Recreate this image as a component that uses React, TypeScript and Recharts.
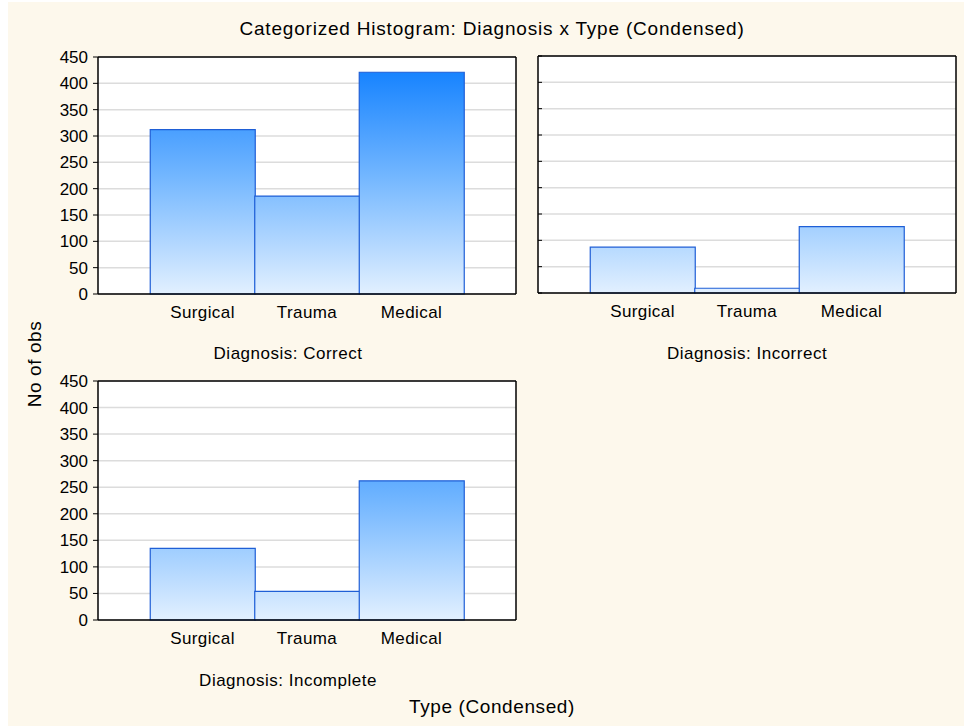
import { BarChart, Bar, XAxis, YAxis, CartesianGrid } from "recharts";

// Categorized histogram: counts per case type, one panel per diagnosis outcome.
const categories = ["Surgical", "Trauma", "Medical"];
const correctCounts = [312, 186, 421];
const incorrectCounts = [87, 9, 126];
const incompleteCounts = [135, 54, 262];
const yTicks = [0, 50, 100, 150, 200, 250, 300, 350, 400, 450];

const FONT = '"Liberation Sans", Arial, sans-serif';
const BG = "#fdf8ec";

// chart margins around the plot box
const ML = 18;
const YW = 40;
const MT = 12;
const XH = 34;
const MB = 8;
const MR = 6;

interface PanelProps {
  id: string;
  counts: number[];
  px: number;
  py: number;
  pw: number;
  ph: number;
  showY: boolean;
}

function Panel({ id, counts, px, py, pw, ph, showY }: PanelProps) {
  const data = categories.map((type, i) => ({ type, count: counts[i] }));
  const pad = pw / 8;
  const width = pw + ML + YW + MR;
  const height = ph + MT + XH + MB;
  // a mirrored y axis takes no room, so push the plot over by hand
  const left = showY ? ML : ML + YW;
  const axisLine = { stroke: "#000", strokeWidth: 1.5 };
  return (
    <div style={{ position: "absolute", left: px - ML - YW, top: py - MT }}>
      <BarChart
        width={width}
        height={height}
        data={data}
        margin={{ top: MT, right: MR, left, bottom: MB }}
        barCategoryGap={0}
        style={{ fontFamily: FONT }}
      >
        <defs>
          <linearGradient
            id={`grad-${id}`}
            gradientUnits="userSpaceOnUse"
            x1={0}
            y1={MT}
            x2={0}
            y2={MT + ph}
          >
            <stop offset="0%" stopColor="#0a7cff" />
            <stop offset="50%" stopColor="#72b6ff" />
            <stop offset="100%" stopColor="#e2f0ff" />
          </linearGradient>
        </defs>
        <CartesianGrid vertical={false} stroke="#dcdcdc" strokeWidth={1.5} fill="#fff" fillOpacity={1} />
        <XAxis
          dataKey="type"
          padding={{ left: pad, right: pad }}
          height={XH}
          axisLine={axisLine}
          tickLine={false}
          tickSize={6}
          tickMargin={6}
          tick={{ fontSize: 17, fill: "#000", letterSpacing: 0.4 }}
          interval={0}
        />
        <XAxis
          xAxisId="bt"
          dataKey="type"
          orientation="bottom"
          mirror
          padding={{ left: pad, right: pad }}
          axisLine={false}
          tick={false}
          tickSize={4}
          tickLine={{ stroke: "#000" }}
          interval={0}
        />
        <XAxis
          xAxisId="top"
          dataKey="type"
          orientation="top"
          mirror
          padding={{ left: pad, right: pad }}
          axisLine={axisLine}
          tick={false}
          tickSize={4}
          tickLine={{ stroke: "#000" }}
          interval={0}
        />
        <YAxis
          domain={[0, 450]}
          ticks={yTicks}
          width={YW}
          interval={0}
          mirror={!showY}
          axisLine={axisLine}
          tickLine={{ stroke: "#000" }}
          tickSize={showY ? 5 : 4}
          tickMargin={5}
          tick={{ fontSize: 17, fill: showY ? "#000" : "none" }}
        />
        <YAxis
          yAxisId="r"
          orientation="right"
          mirror
          domain={[0, 450]}
          ticks={yTicks}
          interval={0}
          axisLine={axisLine}
          tickLine={{ stroke: "#000" }}
          tickSize={4}
          tick={false}
        />
        <Bar
          dataKey="count"
          fill={`url(#grad-${id})`}
          stroke="#1f5fd6"
          strokeWidth={1.2}
          isAnimationActive={false}
        />
      </BarChart>
    </div>
  );
}

export default function App() {
  return (
    <div
      style={{
        position: "absolute",
        left: 0,
        top: 0,
        width: 964,
        height: 726,
        background: "#fff",
        overflow: "hidden",
        fontFamily: FONT,
      }}
    >
      <div style={{ position: "absolute", left: 8, top: 2, right: 0, bottom: 0, background: BG }} />
      <Panel id="correct" counts={correctCounts} px={98} py={57} pw={418} ph={237} showY />
      <Panel id="incorrect" counts={incorrectCounts} px={538} py={56} pw={418} ph={237} showY={false} />
      <Panel id="incomplete" counts={incompleteCounts} px={98} py={381} pw={418} ph={239} showY />
      <svg
        width={964}
        height={726}
        style={{ position: "absolute", left: 0, top: 0, pointerEvents: "none" }}
        fontFamily={FONT}
      >
        <text x={492} y={35} textAnchor="middle" fontSize={19} letterSpacing={0.8} fill="#000">
          Categorized Histogram: Diagnosis x Type (Condensed)
        </text>
        <text x={288} y={359} textAnchor="middle" fontSize={17} letterSpacing={0.5} fill="#000">
          Diagnosis: Correct
        </text>
        <text x={747} y={359} textAnchor="middle" fontSize={17} letterSpacing={0.5} fill="#000">
          Diagnosis: Incorrect
        </text>
        <text x={288} y={686} textAnchor="middle" fontSize={17} letterSpacing={0.5} fill="#000">
          Diagnosis: Incomplete
        </text>
        <text
          x={0}
          y={0}
          transform="translate(41 364) rotate(-90)"
          textAnchor="middle"
          fontSize={19}
          letterSpacing={0.6}
          fill="#000"
        >
          No of obs
        </text>
        <text x={492} y={713} textAnchor="middle" fontSize={19} letterSpacing={0.6} fill="#000">
          Type (Condensed)
        </text>
      </svg>
    </div>
  );
}
